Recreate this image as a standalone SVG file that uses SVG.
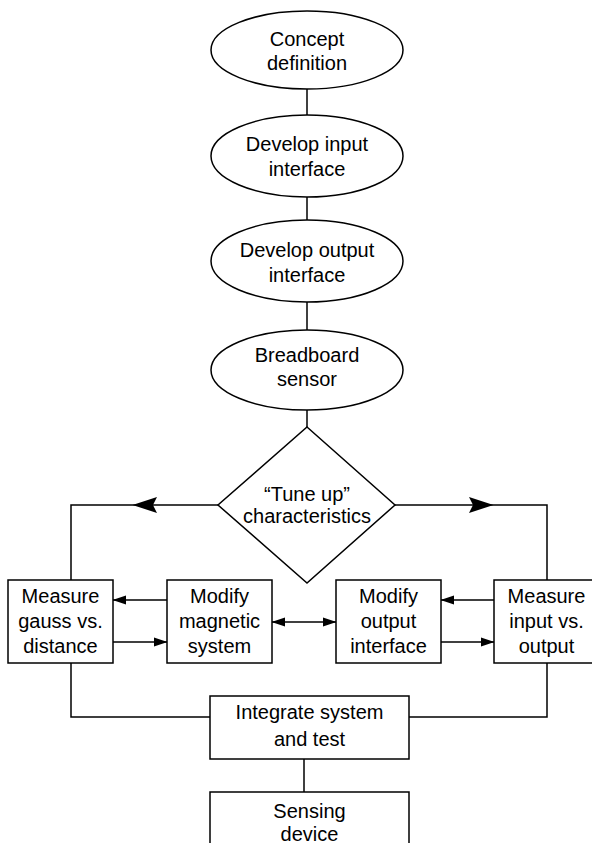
<svg xmlns="http://www.w3.org/2000/svg" width="592" height="853" viewBox="0 0 592 853">
<style>
.s{fill:#fff;stroke:#000;stroke-width:1.5}
.c{fill:none;stroke:#000;stroke-width:1.5}
text{font-family:"Liberation Sans",Arial,sans-serif;font-size:20px;text-anchor:middle;fill:#000}
</style>
<defs>
<marker id="a" markerUnits="userSpaceOnUse" markerWidth="14" markerHeight="10" refX="13" refY="5" orient="auto-start-reverse" viewBox="0 0 14 10">
<path d="M0,0.5 L13.5,5 L0,9.5 z" fill="#000"/>
</marker>
<marker id="b" markerUnits="userSpaceOnUse" markerWidth="25" markerHeight="17" refX="24" refY="8.5" orient="auto" viewBox="0 0 25 17">
<path d="M0,0.5 L24.5,8.5 L0,16.5 L4,8.5 z" fill="#000"/>
</marker>
</defs>
<g id="connectors">
<path class="c" d="M307,89 V115"/>
<path class="c" d="M307,197 V220"/>
<path class="c" d="M307,302 V330"/>
<path class="c" d="M307,410 V427"/>
<path class="c" d="M218,505 H133" marker-end="url(#b)"/>
<path class="c" d="M133,505 H71 V580"/>
<path class="c" d="M395,505 H493" marker-end="url(#b)"/>
<path class="c" d="M493,505 H547 V580"/>
<path class="c" d="M167,600 H113" marker-end="url(#a)"/>
<path class="c" d="M113,642 H167" marker-end="url(#a)"/>
<path class="c" d="M272,622 H336" marker-start="url(#a)" marker-end="url(#a)"/>
<path class="c" d="M494,600 H441" marker-end="url(#a)"/>
<path class="c" d="M441,642 H494" marker-end="url(#a)"/>
<path class="c" d="M71,663 V717 H210"/>
<path class="c" d="M547,663 V717 H409"/>
<path class="c" d="M304,759 V792"/>
</g>
<g id="concept">
<ellipse class="s" cx="307" cy="50" rx="96" ry="39"/>
<text x="307" y="46">Concept</text>
<text x="307" y="70">definition</text>
</g>
<g id="input">
<ellipse class="s" cx="307" cy="156" rx="96" ry="41"/>
<text x="307" y="151">Develop input</text>
<text x="307" y="176">interface</text>
</g>
<g id="output">
<ellipse class="s" cx="307" cy="261" rx="96" ry="41"/>
<text x="307" y="257">Develop output</text>
<text x="307" y="282">interface</text>
</g>
<g id="breadboard">
<ellipse class="s" cx="307" cy="370" rx="96" ry="40"/>
<text x="307" y="362">Breadboard</text>
<text x="307" y="386">sensor</text>
</g>
<g id="tune">
<polygon class="s" points="307,427 395,505 307,583 218,505"/>
<text x="307" y="501">“Tune up”</text>
<text x="307" y="523">characteristics</text>
</g>
<g id="gauss">
<rect class="s" x="8" y="580" width="105" height="83"/>
<text x="60.5" y="603">Measure</text>
<text x="60.5" y="628">gauss vs.</text>
<text x="60.5" y="653">distance</text>
</g>
<g id="magnetic">
<rect class="s" x="167" y="580" width="105" height="83"/>
<text x="219.5" y="603">Modify</text>
<text x="219.5" y="628">magnetic</text>
<text x="219.5" y="653">system</text>
</g>
<g id="outiface">
<rect class="s" x="336" y="580" width="105" height="83"/>
<text x="388.5" y="603">Modify</text>
<text x="388.5" y="628">output</text>
<text x="388.5" y="653">interface</text>
</g>
<g id="inout">
<rect class="s" x="494" y="580" width="105" height="83"/>
<text x="546.5" y="603">Measure</text>
<text x="546.5" y="628">input vs.</text>
<text x="546.5" y="653">output</text>
</g>
<g id="integrate">
<rect class="s" x="210" y="696" width="199" height="63"/>
<text x="309.5" y="719">Integrate system</text>
<text x="309.5" y="746">and test</text>
</g>
<g id="sensing">
<path class="s" d="M210,843 V792 H409 V843"/>
<text x="309.5" y="818">Sensing</text>
<text x="309.5" y="841">device</text>
</g>
</svg>
